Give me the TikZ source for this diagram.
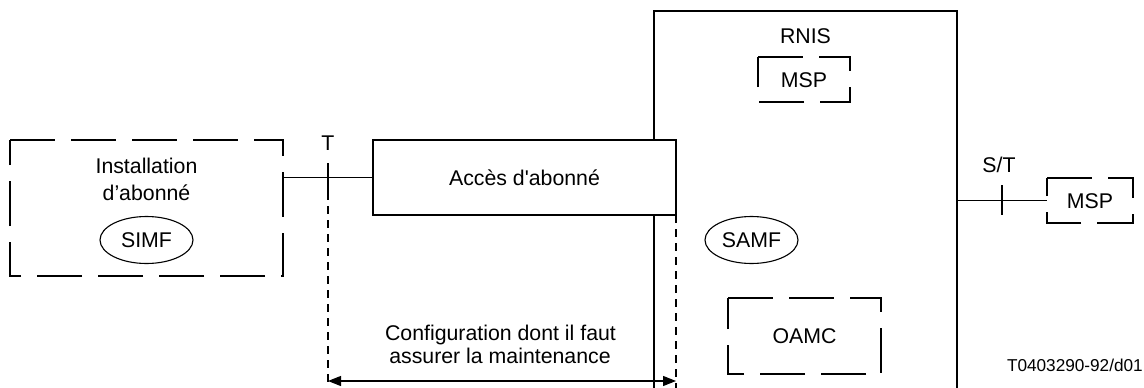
\documentclass[tikz,border=0pt]{standalone}
\usepackage{fontspec}
\newfontfamily\arialf{Liberation Sans}
\usetikzlibrary{arrows.meta,shapes.geometric}
\begin{document}
\begin{tikzpicture}[x=1pt,y=-1pt,
  ln/.style={line width=1.2pt},
  txt/.style={font=\arialf\fontsize{21.3}{24}\selectfont, inner sep=0pt,
    text height=15.3pt, text depth=0pt},
  small/.style={font=\arialf\fontsize{17.2}{20}\selectfont, inner sep=0pt},
  solidbox/.style={txt, draw, ln, fill=white, outer sep=0pt},
  areabox/.style={txt, outer sep=0pt},
  dashedge/.style={ln, dash pattern=on 45pt off 16pt},
  vdash/.style={line width=1.1pt, dash pattern=on 8pt off 6pt},
  oval/.style={txt, ellipse, draw, line width=1.1pt, minimum width=93pt,
    minimum height=47pt},
  tick/.style={ln},
  dim/.style={line width=1.1pt, {Triangle[length=13pt,width=10pt]}-{Triangle[length=13pt,width=10pt]}}]

\useasboundingbox (0,0) rectangle (1144,388);
\clip (0,0) rectangle (1144,388);

% Network (RNIS) block, running off the bottom edge
\node[draw, ln, outer sep=0pt, minimum width=303pt, minimum height=400pt,
  anchor=north west] (rnis) at (654,11) {};
\node[txt] (rnislab) at (805.5,35.5) {RNIS};

% Subscriber installation
\node[areabox, minimum width=273pt, minimum height=136pt] (inst) at (146.5,208) {};
\draw[dashedge] (inst.north west) -- (inst.north east) -- (inst.south east)
  -- (inst.south west) -- cycle;
\node[txt] (instl1) at (146.5,165.5) {Installation};
\node[txt] (instl2) at (146.5,192.5) {d’abonné};
\node[oval] (simf) at (146.5,240) {SIMF};

% Subscriber access
\node[solidbox, minimum width=303pt, minimum height=75pt] (acc) at (524.5,177.5)
  {Accès d'abonné};

% Blocks inside the network
\node[areabox, minimum width=92pt, minimum height=45pt] (msp1) at (804,79.5) {MSP};
\draw[dashedge] (msp1.north west) -- (msp1.north east) -- (msp1.south east)
  -- (msp1.south west) -- cycle;
\node[oval] (samf) at (751.5,240) {SAMF};
\node[areabox, minimum width=153pt, minimum height=76pt] (oamc) at (804.5,336) {OAMC};
\draw[dashedge] (oamc.north west) -- (oamc.north east) -- (oamc.south east)
  -- (oamc.south west) -- cycle;

% External MSP
\node[areabox, minimum width=86pt, minimum height=45pt] (msp2) at (1090,200.5) {MSP};
\draw[dashedge] (msp2.north west) -- (msp2.north east) -- (msp2.south east)
  -- (msp2.south west) -- cycle;

% Reference point T
\draw[ln] (inst.east |- acc.west) -- (acc.west);
\coordinate (ttop) at (328,163);
\coordinate (tbot) at (328,192);
\coordinate (tend) at (328,388);
\draw[tick] (ttop) -- (tbot);
\node[txt] (tlab) at (328,142.5) {T};
\draw[vdash] (tbot) -- (tend);

% Limit of the maintained configuration
\coordinate (mend) at (676,388);
\draw[vdash] (acc.south east) -- (mend);
\coordinate (al) at (328,381);
\coordinate (ar) at (676,381);
\draw[dim] (al) -- (ar);
\node[txt] (conf1) at (500.5,332.5) {Configuration dont il faut};
\node[txt] (conf2) at (500,355.5) {assurer la maintenance};

% Reference point S/T
\draw[ln] (rnis.east |- msp2.west) -- (msp2.west);
\coordinate (sttop) at (1002,185);
\coordinate (stbot) at (1002,215);
\draw[tick] (sttop) -- (stbot);
\node[txt] (stlab) at (999,164.5) {S/T};

\node[small, anchor=base east] (ref) at (1143,371) {T0403290-92/d01};
\end{tikzpicture}
\end{document}
